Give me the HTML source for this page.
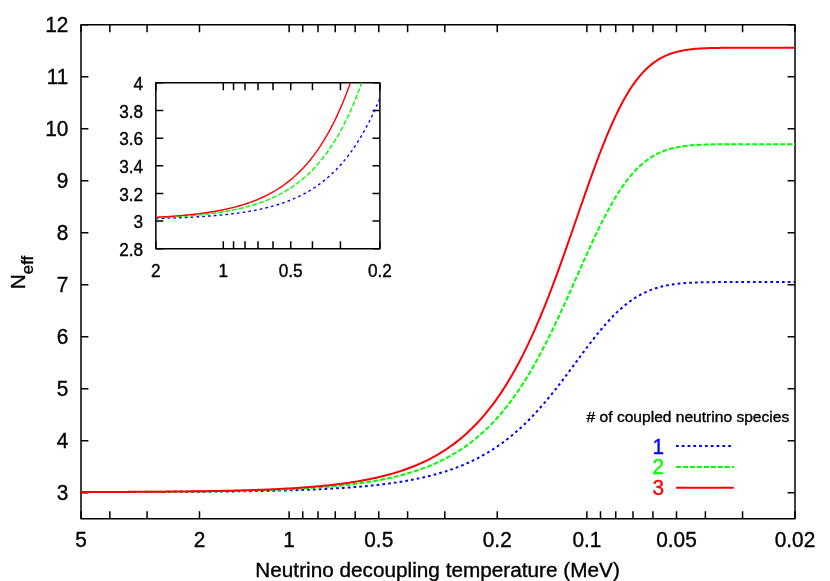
<!DOCTYPE html>
<html><head><meta charset="utf-8"><title>Neff</title>
<style>html,body{margin:0;padding:0;background:#fff}svg{display:block;will-change:transform}</style></head>
<body>
<svg width="830" height="581" viewBox="0 0 830 581" font-family="Liberation Sans, sans-serif" style="font-family:'Liberation Sans',sans-serif">
<rect width="830" height="581" fill="#fff"/>
<rect x="81.0" y="24.76" width="714.0" height="493.94000000000005" stroke="#000" stroke-linejoin="round" stroke-width="1.5" fill="none"/>
<path d="M81.0,492.70h7.4M795.0,492.70h-7.4M81.0,440.71h7.4M795.0,440.71h-7.4M81.0,388.72h7.4M795.0,388.72h-7.4M81.0,336.72h7.4M795.0,336.72h-7.4M81.0,284.73h7.4M795.0,284.73h-7.4M81.0,232.73h7.4M795.0,232.73h-7.4M81.0,180.74h7.4M795.0,180.74h-7.4M81.0,128.75h7.4M795.0,128.75h-7.4M81.0,76.75h7.4M795.0,76.75h-7.4M81.0,24.76h7.4M795.0,24.76h-7.4M81.00,518.7v-7.4M81.00,24.76v7.4M109.86,518.7v-7.4M109.86,24.76v7.4M147.06,518.7v-7.4M147.06,24.76v7.4M199.49,518.7v-7.4M199.49,24.76v7.4M289.12,518.7v-7.4M289.12,24.76v7.4M302.75,518.7v-7.4M302.75,24.76v7.4M317.98,518.7v-7.4M317.98,24.76v7.4M335.25,518.7v-7.4M335.25,24.76v7.4M355.18,518.7v-7.4M355.18,24.76v7.4M378.76,518.7v-7.4M378.76,24.76v7.4M407.61,518.7v-7.4M407.61,24.76v7.4M444.81,518.7v-7.4M444.81,24.76v7.4M497.24,518.7v-7.4M497.24,24.76v7.4M586.88,518.7v-7.4M586.88,24.76v7.4M600.50,518.7v-7.4M600.50,24.76v7.4M615.73,518.7v-7.4M615.73,24.76v7.4M633.00,518.7v-7.4M633.00,24.76v7.4M652.93,518.7v-7.4M652.93,24.76v7.4M676.51,518.7v-7.4M676.51,24.76v7.4M705.37,518.7v-7.4M705.37,24.76v7.4M742.57,518.7v-7.4M742.57,24.76v7.4M795.00,518.7v-7.4M795.00,24.76v7.4" stroke="#000" stroke-linejoin="round" stroke-width="1.5" fill="none"/>
<clipPath id="cm"><rect x="81.0" y="24.76" width="714.0" height="493.94000000000005"/></clipPath>
<g clip-path="url(#cm)">
<path d="M81.00,492.11 L82.99,492.11 L84.98,492.10 L86.97,492.10 L88.96,492.10 L90.94,492.10 L92.93,492.09 L94.92,492.09 L96.91,492.09 L98.90,492.09 L100.89,492.08 L102.88,492.08 L104.87,492.08 L106.86,492.07 L108.84,492.07 L110.83,492.07 L112.82,492.06 L114.81,492.06 L116.80,492.05 L118.79,492.05 L120.78,492.05 L122.77,492.04 L124.75,492.04 L126.74,492.03 L128.73,492.03 L130.72,492.02 L132.71,492.02 L134.70,492.01 L136.69,492.01 L138.68,492.00 L140.67,492.00 L142.65,491.99 L144.64,491.99 L146.63,491.98 L148.62,491.97 L150.61,491.97 L152.60,491.96 L154.59,491.95 L156.58,491.95 L158.57,491.94 L160.55,491.93 L162.54,491.92 L164.53,491.91 L166.52,491.91 L168.51,491.90 L170.50,491.89 L172.49,491.88 L174.48,491.87 L176.47,491.86 L178.45,491.85 L180.44,491.84 L182.43,491.83 L184.42,491.82 L186.41,491.81 L188.40,491.79 L190.39,491.78 L192.38,491.77 L194.36,491.76 L196.35,491.74 L198.34,491.73 L200.33,491.71 L202.32,491.70 L204.31,491.68 L206.30,491.67 L208.29,491.65 L210.28,491.64 L212.26,491.62 L214.25,491.60 L216.24,491.58 L218.23,491.57 L220.22,491.55 L222.21,491.53 L224.20,491.51 L226.19,491.48 L228.18,491.46 L230.16,491.44 L232.15,491.42 L234.14,491.39 L236.13,491.37 L238.12,491.34 L240.11,491.32 L242.10,491.29 L244.09,491.26 L246.08,491.23 L248.06,491.20 L250.05,491.17 L252.04,491.14 L254.03,491.11 L256.02,491.07 L258.01,491.04 L260.00,491.00 L261.99,490.97 L263.97,490.93 L265.96,490.89 L267.95,490.85 L269.94,490.81 L271.93,490.76 L273.92,490.72 L275.91,490.67 L277.90,490.63 L279.89,490.58 L281.87,490.53 L283.86,490.48 L285.85,490.42 L287.84,490.37 L289.83,490.31 L291.82,490.25 L293.81,490.19 L295.80,490.13 L297.79,490.07 L299.77,490.00 L301.76,489.93 L303.75,489.86 L305.74,489.79 L307.73,489.72 L309.72,489.64 L311.71,489.56 L313.70,489.48 L315.69,489.39 L317.67,489.30 L319.66,489.21 L321.65,489.12 L323.64,489.03 L325.63,488.93 L327.62,488.83 L329.61,488.72 L331.60,488.61 L333.58,488.50 L335.57,488.39 L337.56,488.27 L339.55,488.15 L341.54,488.02 L343.53,487.89 L345.52,487.75 L347.51,487.62 L349.50,487.47 L351.48,487.33 L353.47,487.17 L355.46,487.02 L357.45,486.86 L359.44,486.69 L361.43,486.52 L363.42,486.34 L365.41,486.16 L367.40,485.97 L369.38,485.78 L371.37,485.58 L373.36,485.37 L375.35,485.16 L377.34,484.94 L379.33,484.71 L381.32,484.48 L383.31,484.24 L385.30,483.99 L387.28,483.73 L389.27,483.47 L391.26,483.19 L393.25,482.91 L395.24,482.62 L397.23,482.32 L399.22,482.02 L401.21,481.70 L403.19,481.37 L405.18,481.03 L407.17,480.69 L409.16,480.33 L411.15,479.96 L413.14,479.57 L415.13,479.18 L417.12,478.77 L419.11,478.36 L421.09,477.92 L423.08,477.48 L425.07,477.02 L427.06,476.55 L429.05,476.06 L431.04,475.56 L433.03,475.04 L435.02,474.51 L437.01,473.96 L438.99,473.39 L440.98,472.80 L442.97,472.20 L444.96,471.58 L446.95,470.94 L448.94,470.28 L450.93,469.60 L452.92,468.90 L454.91,468.17 L456.89,467.43 L458.88,466.66 L460.87,465.87 L462.86,465.06 L464.85,464.22 L466.84,463.36 L468.83,462.47 L470.82,461.55 L472.81,460.61 L474.79,459.64 L476.78,458.64 L478.77,457.61 L480.76,456.55 L482.75,455.46 L484.74,454.34 L486.73,453.19 L488.72,452.00 L490.70,450.78 L492.69,449.52 L494.68,448.23 L496.67,446.91 L498.66,445.54 L500.65,444.14 L502.64,442.71 L504.63,441.23 L506.62,439.71 L508.60,438.16 L510.59,436.56 L512.58,434.92 L514.57,433.24 L516.56,431.52 L518.55,429.76 L520.54,427.95 L522.53,426.10 L524.52,424.21 L526.50,422.28 L528.49,420.30 L530.48,418.27 L532.47,416.21 L534.46,414.10 L536.45,411.95 L538.44,409.76 L540.43,407.52 L542.42,405.25 L544.40,402.94 L546.39,400.58 L548.38,398.19 L550.37,395.77 L552.36,393.31 L554.35,390.81 L556.34,388.29 L558.33,385.73 L560.31,383.15 L562.30,380.55 L564.29,377.92 L566.28,375.28 L568.27,372.62 L570.26,369.94 L572.25,367.26 L574.24,364.57 L576.23,361.87 L578.21,359.18 L580.20,356.49 L582.19,353.81 L584.18,351.14 L586.17,348.49 L588.16,345.85 L590.15,343.25 L592.14,340.67 L594.13,338.12 L596.11,335.60 L598.10,333.13 L600.09,330.70 L602.08,328.32 L604.07,325.99 L606.06,323.71 L608.05,321.48 L610.04,319.32 L612.03,317.22 L614.01,315.18 L616.00,313.21 L617.99,311.31 L619.98,309.47 L621.97,307.71 L623.96,306.01 L625.95,304.39 L627.94,302.84 L629.92,301.37 L631.91,299.96 L633.90,298.62 L635.89,297.36 L637.88,296.17 L639.87,295.04 L641.86,293.98 L643.85,292.98 L645.84,292.05 L647.82,291.18 L649.81,290.36 L651.80,289.61 L653.79,288.90 L655.78,288.25 L657.77,287.65 L659.76,287.10 L661.75,286.59 L663.74,286.12 L665.72,285.69 L667.71,285.30 L669.70,284.95 L671.69,284.62 L673.68,284.33 L675.67,284.06 L677.66,283.82 L679.65,283.61 L681.64,283.42 L683.62,283.24 L685.61,283.09 L687.60,282.95 L689.59,282.83 L691.58,282.72 L693.57,282.63 L695.56,282.54 L697.55,282.47 L699.53,282.41 L701.52,282.35 L703.51,282.30 L705.50,282.26 L707.49,282.22 L709.48,282.19 L711.47,282.16 L713.46,282.14 L715.45,282.12 L717.43,282.10 L719.42,282.09 L721.41,282.08 L723.40,282.07 L725.39,282.06 L727.38,282.05 L729.37,282.04 L731.36,282.04 L733.35,282.03 L735.33,282.03 L737.32,282.03 L739.31,282.03 L741.30,282.02 L743.29,282.02 L745.28,282.02 L747.27,282.02 L749.26,282.02 L751.25,282.02 L753.23,282.02 L755.22,282.02 L757.21,282.02 L759.20,282.02 L761.19,282.02 L763.18,282.02 L765.17,282.02 L767.16,282.02 L769.14,282.02 L771.13,282.02 L773.12,282.02 L775.11,282.02 L777.10,282.02 L779.09,282.02 L781.08,282.02 L783.07,282.02 L785.06,282.02 L787.04,282.02 L789.03,282.02 L791.02,282.02 L793.01,282.02 L795.00,282.02" fill="none" stroke="#0000ff" stroke-width="2.0" stroke-dasharray="2.7 3.1"/>
<path d="M81.00,492.06 L82.99,492.06 L84.98,492.06 L86.97,492.05 L88.96,492.05 L90.94,492.04 L92.93,492.04 L94.92,492.04 L96.91,492.03 L98.90,492.03 L100.89,492.02 L102.88,492.02 L104.87,492.01 L106.86,492.01 L108.84,492.00 L110.83,491.99 L112.82,491.99 L114.81,491.98 L116.80,491.98 L118.79,491.97 L120.78,491.96 L122.77,491.96 L124.75,491.95 L126.74,491.94 L128.73,491.93 L130.72,491.93 L132.71,491.92 L134.70,491.91 L136.69,491.90 L138.68,491.89 L140.67,491.88 L142.65,491.87 L144.64,491.86 L146.63,491.85 L148.62,491.84 L150.61,491.83 L152.60,491.82 L154.59,491.81 L156.58,491.80 L158.57,491.79 L160.55,491.77 L162.54,491.76 L164.53,491.75 L166.52,491.74 L168.51,491.72 L170.50,491.71 L172.49,491.69 L174.48,491.68 L176.47,491.66 L178.45,491.64 L180.44,491.63 L182.43,491.61 L184.42,491.59 L186.41,491.57 L188.40,491.55 L190.39,491.54 L192.38,491.52 L194.36,491.49 L196.35,491.47 L198.34,491.45 L200.33,491.43 L202.32,491.40 L204.31,491.38 L206.30,491.35 L208.29,491.33 L210.28,491.30 L212.26,491.27 L214.25,491.25 L216.24,491.22 L218.23,491.19 L220.22,491.16 L222.21,491.12 L224.20,491.09 L226.19,491.06 L228.18,491.02 L230.16,490.98 L232.15,490.95 L234.14,490.91 L236.13,490.87 L238.12,490.83 L240.11,490.78 L242.10,490.74 L244.09,490.70 L246.08,490.65 L248.06,490.60 L250.05,490.55 L252.04,490.50 L254.03,490.45 L256.02,490.39 L258.01,490.34 L260.00,490.28 L261.99,490.22 L263.97,490.16 L265.96,490.10 L267.95,490.03 L269.94,489.96 L271.93,489.90 L273.92,489.82 L275.91,489.75 L277.90,489.67 L279.89,489.60 L281.87,489.51 L283.86,489.43 L285.85,489.35 L287.84,489.26 L289.83,489.16 L291.82,489.07 L293.81,488.97 L295.80,488.87 L297.79,488.77 L299.77,488.66 L301.76,488.55 L303.75,488.44 L305.74,488.32 L307.73,488.20 L309.72,488.08 L311.71,487.95 L313.70,487.82 L315.69,487.68 L317.67,487.54 L319.66,487.39 L321.65,487.24 L323.64,487.09 L325.63,486.93 L327.62,486.76 L329.61,486.60 L331.60,486.42 L333.58,486.24 L335.57,486.05 L337.56,485.86 L339.55,485.66 L341.54,485.46 L343.53,485.25 L345.52,485.03 L347.51,484.81 L349.50,484.58 L351.48,484.34 L353.47,484.10 L355.46,483.84 L357.45,483.58 L359.44,483.31 L361.43,483.03 L363.42,482.75 L365.41,482.45 L367.40,482.15 L369.38,481.83 L371.37,481.51 L373.36,481.18 L375.35,480.83 L377.34,480.48 L379.33,480.11 L381.32,479.73 L383.31,479.34 L385.30,478.94 L387.28,478.52 L389.27,478.10 L391.26,477.66 L393.25,477.20 L395.24,476.73 L397.23,476.25 L399.22,475.75 L401.21,475.23 L403.19,474.70 L405.18,474.16 L407.17,473.59 L409.16,473.01 L411.15,472.41 L413.14,471.79 L415.13,471.15 L417.12,470.49 L419.11,469.82 L421.09,469.12 L423.08,468.39 L425.07,467.65 L427.06,466.88 L429.05,466.09 L431.04,465.27 L433.03,464.43 L435.02,463.56 L437.01,462.67 L438.99,461.75 L440.98,460.80 L442.97,459.82 L444.96,458.80 L446.95,457.76 L448.94,456.69 L450.93,455.58 L452.92,454.44 L454.91,453.26 L456.89,452.05 L458.88,450.80 L460.87,449.52 L462.86,448.19 L464.85,446.82 L466.84,445.41 L468.83,443.96 L470.82,442.47 L472.81,440.93 L474.79,439.34 L476.78,437.71 L478.77,436.03 L480.76,434.30 L482.75,432.52 L484.74,430.68 L486.73,428.79 L488.72,426.85 L490.70,424.85 L492.69,422.80 L494.68,420.69 L496.67,418.51 L498.66,416.28 L500.65,413.98 L502.64,411.62 L504.63,409.20 L506.62,406.71 L508.60,404.15 L510.59,401.53 L512.58,398.84 L514.57,396.07 L516.56,393.24 L518.55,390.34 L520.54,387.37 L522.53,384.32 L524.52,381.20 L526.50,378.01 L528.49,374.75 L530.48,371.41 L532.47,368.00 L534.46,364.52 L536.45,360.97 L538.44,357.34 L540.43,353.65 L542.42,349.89 L544.40,346.06 L546.39,342.16 L548.38,338.20 L550.37,334.18 L552.36,330.10 L554.35,325.97 L556.34,321.78 L558.33,317.54 L560.31,313.25 L562.30,308.92 L564.29,304.56 L566.28,300.16 L568.27,295.73 L570.26,291.28 L572.25,286.81 L574.24,282.33 L576.23,277.84 L578.21,273.35 L580.20,268.87 L582.19,264.40 L584.18,259.95 L586.17,255.52 L588.16,251.13 L590.15,246.77 L592.14,242.46 L594.13,238.20 L596.11,234.00 L598.10,229.87 L600.09,225.80 L602.08,221.82 L604.07,217.91 L606.06,214.10 L608.05,210.38 L610.04,206.75 L612.03,203.23 L614.01,199.82 L616.00,196.51 L617.99,193.32 L619.98,190.25 L621.97,187.29 L623.96,184.45 L625.95,181.73 L627.94,179.13 L629.92,176.65 L631.91,174.29 L633.90,172.05 L635.89,169.93 L637.88,167.92 L639.87,166.03 L641.86,164.25 L643.85,162.58 L645.84,161.01 L647.82,159.55 L649.81,158.18 L651.80,156.91 L653.79,155.73 L655.78,154.64 L657.77,153.63 L659.76,152.70 L661.75,151.84 L663.74,151.05 L665.72,150.33 L667.71,149.68 L669.70,149.08 L671.69,148.54 L673.68,148.04 L675.67,147.60 L677.66,147.20 L679.65,146.83 L681.64,146.51 L683.62,146.22 L685.61,145.96 L687.60,145.73 L689.59,145.53 L691.58,145.35 L693.57,145.19 L695.56,145.04 L697.55,144.92 L699.53,144.81 L701.52,144.72 L703.51,144.64 L705.50,144.56 L707.49,144.50 L709.48,144.45 L711.47,144.40 L713.46,144.36 L715.45,144.33 L717.43,144.30 L719.42,144.28 L721.41,144.26 L723.40,144.24 L725.39,144.22 L727.38,144.21 L729.37,144.20 L731.36,144.19 L733.35,144.19 L735.33,144.18 L737.32,144.18 L739.31,144.17 L741.30,144.17 L743.29,144.17 L745.28,144.16 L747.27,144.16 L749.26,144.16 L751.25,144.16 L753.23,144.16 L755.22,144.16 L757.21,144.16 L759.20,144.16 L761.19,144.16 L763.18,144.16 L765.17,144.16 L767.16,144.16 L769.14,144.16 L771.13,144.16 L773.12,144.16 L775.11,144.16 L777.10,144.16 L779.09,144.16 L781.08,144.16 L783.07,144.16 L785.06,144.16 L787.04,144.16 L789.03,144.16 L791.02,144.16 L793.01,144.16 L795.00,144.16" fill="none" stroke="#00ff00" stroke-width="2.0" stroke-dasharray="5.0 1.97"/>
<path d="M81.00,492.03 L82.99,492.03 L84.98,492.02 L86.97,492.02 L88.96,492.01 L90.94,492.01 L92.93,492.00 L94.92,492.00 L96.91,491.99 L98.90,491.99 L100.89,491.98 L102.88,491.97 L104.87,491.97 L106.86,491.96 L108.84,491.95 L110.83,491.95 L112.82,491.94 L114.81,491.93 L116.80,491.92 L118.79,491.91 L120.78,491.91 L122.77,491.90 L124.75,491.89 L126.74,491.88 L128.73,491.87 L130.72,491.86 L132.71,491.85 L134.70,491.84 L136.69,491.83 L138.68,491.82 L140.67,491.81 L142.65,491.79 L144.64,491.78 L146.63,491.77 L148.62,491.76 L150.61,491.74 L152.60,491.73 L154.59,491.72 L156.58,491.70 L158.57,491.69 L160.55,491.67 L162.54,491.65 L164.53,491.64 L166.52,491.62 L168.51,491.60 L170.50,491.58 L172.49,491.57 L174.48,491.55 L176.47,491.53 L178.45,491.51 L180.44,491.49 L182.43,491.46 L184.42,491.44 L186.41,491.42 L188.40,491.39 L190.39,491.37 L192.38,491.34 L194.36,491.32 L196.35,491.29 L198.34,491.26 L200.33,491.23 L202.32,491.20 L204.31,491.17 L206.30,491.14 L208.29,491.11 L210.28,491.08 L212.26,491.04 L214.25,491.01 L216.24,490.97 L218.23,490.93 L220.22,490.89 L222.21,490.85 L224.20,490.81 L226.19,490.77 L228.18,490.72 L230.16,490.68 L232.15,490.63 L234.14,490.58 L236.13,490.53 L238.12,490.48 L240.11,490.43 L242.10,490.37 L244.09,490.31 L246.08,490.26 L248.06,490.20 L250.05,490.13 L252.04,490.07 L254.03,490.00 L256.02,489.94 L258.01,489.87 L260.00,489.79 L261.99,489.72 L263.97,489.64 L265.96,489.56 L267.95,489.48 L269.94,489.40 L271.93,489.31 L273.92,489.22 L275.91,489.13 L277.90,489.03 L279.89,488.93 L281.87,488.83 L283.86,488.72 L285.85,488.62 L287.84,488.51 L289.83,488.39 L291.82,488.27 L293.81,488.15 L295.80,488.02 L297.79,487.89 L299.77,487.76 L301.76,487.62 L303.75,487.48 L305.74,487.33 L307.73,487.18 L309.72,487.02 L311.71,486.86 L313.70,486.69 L315.69,486.52 L317.67,486.35 L319.66,486.16 L321.65,485.97 L323.64,485.78 L325.63,485.58 L327.62,485.37 L329.61,485.16 L331.60,484.94 L333.58,484.71 L335.57,484.48 L337.56,484.24 L339.55,483.99 L341.54,483.73 L343.53,483.47 L345.52,483.20 L347.51,482.91 L349.50,482.62 L351.48,482.32 L353.47,482.02 L355.46,481.70 L357.45,481.37 L359.44,481.03 L361.43,480.68 L363.42,480.32 L365.41,479.95 L367.40,479.57 L369.38,479.17 L371.37,478.76 L373.36,478.34 L375.35,477.91 L377.34,477.46 L379.33,477.00 L381.32,476.52 L383.31,476.03 L385.30,475.53 L387.28,475.00 L389.27,474.46 L391.26,473.91 L393.25,473.34 L395.24,472.74 L397.23,472.14 L399.22,471.51 L401.21,470.86 L403.19,470.19 L405.18,469.50 L407.17,468.79 L409.16,468.05 L411.15,467.30 L413.14,466.52 L415.13,465.71 L417.12,464.88 L419.11,464.03 L421.09,463.14 L423.08,462.23 L425.07,461.29 L427.06,460.32 L429.05,459.33 L431.04,458.30 L433.03,457.23 L435.02,456.14 L437.01,455.01 L438.99,453.84 L440.98,452.64 L442.97,451.40 L444.96,450.13 L446.95,448.81 L448.94,447.45 L450.93,446.05 L452.92,444.61 L454.91,443.12 L456.89,441.59 L458.88,440.01 L460.87,438.38 L462.86,436.71 L464.85,434.98 L466.84,433.19 L468.83,431.36 L470.82,429.46 L472.81,427.52 L474.79,425.51 L476.78,423.44 L478.77,421.31 L480.76,419.12 L482.75,416.86 L484.74,414.53 L486.73,412.14 L488.72,409.68 L490.70,407.14 L492.69,404.53 L494.68,401.85 L496.67,399.09 L498.66,396.26 L500.65,393.34 L502.64,390.34 L504.63,387.26 L506.62,384.10 L508.60,380.85 L510.59,377.51 L512.58,374.09 L514.57,370.58 L516.56,366.97 L518.55,363.28 L520.54,359.49 L522.53,355.61 L524.52,351.64 L526.50,347.58 L528.49,343.42 L530.48,339.16 L532.47,334.82 L534.46,330.38 L536.45,325.85 L538.44,321.22 L540.43,316.51 L542.42,311.70 L544.40,306.81 L546.39,301.84 L548.38,296.78 L550.37,291.64 L552.36,286.43 L554.35,281.14 L556.34,275.78 L558.33,270.36 L560.31,264.88 L562.30,259.34 L564.29,253.75 L566.28,248.12 L568.27,242.45 L570.26,236.75 L572.25,231.03 L574.24,225.28 L576.23,219.53 L578.21,213.78 L580.20,208.03 L582.19,202.29 L584.18,196.58 L586.17,190.90 L588.16,185.26 L590.15,179.67 L592.14,174.14 L594.13,168.67 L596.11,163.28 L598.10,157.97 L600.09,152.75 L602.08,147.62 L604.07,142.61 L606.06,137.71 L608.05,132.92 L610.04,128.27 L612.03,123.74 L614.01,119.35 L616.00,115.10 L617.99,111.00 L619.98,107.04 L621.97,103.24 L623.96,99.59 L625.95,96.09 L627.94,92.74 L629.92,89.55 L631.91,86.52 L633.90,83.64 L635.89,80.91 L637.88,78.32 L639.87,75.89 L641.86,73.59 L643.85,71.44 L645.84,69.42 L647.82,67.54 L649.81,65.78 L651.80,64.14 L653.79,62.62 L655.78,61.22 L657.77,59.92 L659.76,58.72 L661.75,57.61 L663.74,56.60 L665.72,55.68 L667.71,54.83 L669.70,54.06 L671.69,53.36 L673.68,52.73 L675.67,52.15 L677.66,51.64 L679.65,51.17 L681.64,50.75 L683.62,50.38 L685.61,50.05 L687.60,49.75 L689.59,49.48 L691.58,49.25 L693.57,49.05 L695.56,48.86 L697.55,48.70 L699.53,48.56 L701.52,48.44 L703.51,48.34 L705.50,48.25 L707.49,48.17 L709.48,48.10 L711.47,48.04 L713.46,47.99 L715.45,47.94 L717.43,47.91 L719.42,47.88 L721.41,47.85 L723.40,47.83 L725.39,47.81 L727.38,47.79 L729.37,47.78 L731.36,47.77 L733.35,47.76 L735.33,47.75 L737.32,47.75 L739.31,47.74 L741.30,47.74 L743.29,47.73 L745.28,47.73 L747.27,47.73 L749.26,47.73 L751.25,47.72 L753.23,47.72 L755.22,47.72 L757.21,47.72 L759.20,47.72 L761.19,47.72 L763.18,47.72 L765.17,47.72 L767.16,47.72 L769.14,47.72 L771.13,47.72 L773.12,47.72 L775.11,47.72 L777.10,47.72 L779.09,47.72 L781.08,47.72 L783.07,47.72 L785.06,47.72 L787.04,47.72 L789.03,47.72 L791.02,47.72 L793.01,47.72 L795.00,47.72" fill="none" stroke="#ff0000" stroke-width="2.0"/>
</g>
<text transform="translate(68.30,500.10) scale(1,1.04)" font-size="20.8" text-anchor="end" fill="#000" stroke="#000" stroke-width="0.35">3</text>
<text transform="translate(68.30,448.11) scale(1,1.04)" font-size="20.8" text-anchor="end" fill="#000" stroke="#000" stroke-width="0.35">4</text>
<text transform="translate(68.30,396.12) scale(1,1.04)" font-size="20.8" text-anchor="end" fill="#000" stroke="#000" stroke-width="0.35">5</text>
<text transform="translate(68.30,344.12) scale(1,1.04)" font-size="20.8" text-anchor="end" fill="#000" stroke="#000" stroke-width="0.35">6</text>
<text transform="translate(68.30,292.13) scale(1,1.04)" font-size="20.8" text-anchor="end" fill="#000" stroke="#000" stroke-width="0.35">7</text>
<text transform="translate(68.30,240.13) scale(1,1.04)" font-size="20.8" text-anchor="end" fill="#000" stroke="#000" stroke-width="0.35">8</text>
<text transform="translate(68.30,188.14) scale(1,1.04)" font-size="20.8" text-anchor="end" fill="#000" stroke="#000" stroke-width="0.35">9</text>
<text transform="translate(68.30,136.15) scale(1,1.04)" font-size="20.8" text-anchor="end" fill="#000" stroke="#000" stroke-width="0.35">10</text>
<text transform="translate(68.30,84.15) scale(1,1.04)" font-size="20.8" text-anchor="end" fill="#000" stroke="#000" stroke-width="0.35">11</text>
<text transform="translate(68.30,32.16) scale(1,1.04)" font-size="20.8" text-anchor="end" fill="#000" stroke="#000" stroke-width="0.35">12</text>
<text transform="translate(81.00,546.60) scale(1,1.04)" font-size="20.8" text-anchor="middle" fill="#000" stroke="#000" stroke-width="0.35">5</text>
<text transform="translate(199.49,546.60) scale(1,1.04)" font-size="20.8" text-anchor="middle" fill="#000" stroke="#000" stroke-width="0.35">2</text>
<text transform="translate(289.12,546.60) scale(1,1.04)" font-size="20.8" text-anchor="middle" fill="#000" stroke="#000" stroke-width="0.35">1</text>
<text transform="translate(378.76,546.60) scale(1,1.04)" font-size="20.8" text-anchor="middle" fill="#000" stroke="#000" stroke-width="0.35">0.5</text>
<text transform="translate(497.24,546.60) scale(1,1.04)" font-size="20.8" text-anchor="middle" fill="#000" stroke="#000" stroke-width="0.35">0.2</text>
<text transform="translate(586.88,546.60) scale(1,1.04)" font-size="20.8" text-anchor="middle" fill="#000" stroke="#000" stroke-width="0.35">0.1</text>
<text transform="translate(676.51,546.60) scale(1,1.04)" font-size="20.8" text-anchor="middle" fill="#000" stroke="#000" stroke-width="0.35">0.05</text>
<text transform="translate(795.00,546.60) scale(1,1.04)" font-size="20.8" text-anchor="middle" fill="#000" stroke="#000" stroke-width="0.35">0.02</text>
<text x="255.3" y="577.2" font-size="20" textLength="364.5" lengthAdjust="spacingAndGlyphs" fill="#000" stroke="#000" stroke-width="0.35">Neutrino decoupling temperature (MeV)</text>
<text transform="translate(25.2,272.5) rotate(-90)" font-size="20.8" text-anchor="middle" fill="#000" stroke="#000" stroke-width="0.35">N<tspan font-size="16.8" dy="7.3">eff</tspan></text>
<text x="586.6" y="421.7" font-size="15.3" textLength="202.6" lengthAdjust="spacingAndGlyphs" fill="#000" stroke="#000" stroke-width="0.35"># of coupled neutrino species</text>
<text transform="translate(658.30,453.50) scale(1,1.04)" font-size="20.8" text-anchor="middle" fill="#0000ff" stroke="#0000ff" stroke-width="0.35">1</text>
<path d="M676,446.1H733.8" fill="none" stroke="#0000ff" stroke-width="2.0" stroke-dasharray="2.7 3.1"/>
<text transform="translate(658.30,474.30) scale(1,1.04)" font-size="20.8" text-anchor="middle" fill="#00ff00" stroke="#00ff00" stroke-width="0.35">2</text>
<path d="M676,466.9H733.8" fill="none" stroke="#00ff00" stroke-width="2.0" stroke-dasharray="5.0 1.97"/>
<text transform="translate(658.30,495.10) scale(1,1.04)" font-size="20.8" text-anchor="middle" fill="#ff0000" stroke="#ff0000" stroke-width="0.35">3</text>
<path d="M676,487.7H733.8" fill="none" stroke="#ff0000" stroke-width="2.0"/>
<rect x="155.85" y="82.85" width="224.04999999999998" height="165.92000000000002" stroke="#000" stroke-linejoin="round" stroke-width="1.5" fill="none"/>
<path d="M155.85,248.77h7.4M379.9,248.77h-7.4M155.85,221.12h7.4M379.9,221.12h-7.4M155.85,193.46h7.4M379.9,193.46h-7.4M155.85,165.81h7.4M379.9,165.81h-7.4M155.85,138.16h7.4M379.9,138.16h-7.4M155.85,110.50h7.4M379.9,110.50h-7.4M155.85,82.85h7.4M379.9,82.85h-7.4M155.85,248.77v-7.4M155.85,82.85v7.4M223.30,248.77v-7.4M223.30,82.85v7.4M233.55,248.77v-7.4M233.55,82.85v7.4M245.01,248.77v-7.4M245.01,82.85v7.4M258.00,248.77v-7.4M258.00,82.85v7.4M273.00,248.77v-7.4M273.00,82.85v7.4M290.74,248.77v-7.4M290.74,82.85v7.4M312.45,248.77v-7.4M312.45,82.85v7.4M340.45,248.77v-7.4M340.45,82.85v7.4M379.90,248.77v-7.4M379.90,82.85v7.4" stroke="#000" stroke-linejoin="round" stroke-width="1.5" fill="none"/>
<clipPath id="ci"><rect x="155.85" y="82.85" width="224.04999999999998" height="165.92000000000002"/></clipPath>
<g clip-path="url(#ci)">
<path d="M155.85,218.50 L157.46,218.46 L159.07,218.42 L160.69,218.38 L162.30,218.33 L163.91,218.28 L165.52,218.23 L167.13,218.18 L168.74,218.13 L170.36,218.08 L171.97,218.02 L173.58,217.96 L175.19,217.90 L176.80,217.84 L178.42,217.78 L180.03,217.71 L181.64,217.64 L183.25,217.57 L184.86,217.50 L186.48,217.43 L188.09,217.35 L189.70,217.27 L191.31,217.18 L192.92,217.10 L194.53,217.01 L196.15,216.92 L197.76,216.82 L199.37,216.73 L200.98,216.62 L202.59,216.52 L204.21,216.41 L205.82,216.30 L207.43,216.18 L209.04,216.06 L210.65,215.94 L212.27,215.81 L213.88,215.68 L215.49,215.54 L217.10,215.40 L218.71,215.26 L220.32,215.10 L221.94,214.95 L223.55,214.79 L225.16,214.62 L226.77,214.45 L228.38,214.27 L230.00,214.09 L231.61,213.90 L233.22,213.70 L234.83,213.50 L236.44,213.29 L238.06,213.07 L239.67,212.84 L241.28,212.61 L242.89,212.37 L244.50,212.12 L246.11,211.87 L247.73,211.60 L249.34,211.33 L250.95,211.04 L252.56,210.75 L254.17,210.45 L255.79,210.14 L257.40,209.81 L259.01,209.48 L260.62,209.13 L262.23,208.77 L263.85,208.40 L265.46,208.02 L267.07,207.63 L268.68,207.22 L270.29,206.80 L271.90,206.36 L273.52,205.91 L275.13,205.45 L276.74,204.96 L278.35,204.47 L279.96,203.95 L281.58,203.42 L283.19,202.87 L284.80,202.30 L286.41,201.71 L288.02,201.11 L289.64,200.48 L291.25,199.83 L292.86,199.16 L294.47,198.46 L296.08,197.75 L297.69,197.01 L299.31,196.24 L300.92,195.45 L302.53,194.63 L304.14,193.78 L305.75,192.91 L307.37,192.01 L308.98,191.07 L310.59,190.11 L312.20,189.11 L313.81,188.08 L315.43,187.01 L317.04,185.91 L318.65,184.77 L320.26,183.59 L321.87,182.38 L323.48,181.12 L325.10,179.82 L326.71,178.48 L328.32,177.09 L329.93,175.66 L331.54,174.18 L333.16,172.65 L334.77,171.07 L336.38,169.43 L337.99,167.74 L339.60,166.00 L341.22,164.20 L342.83,162.34 L344.44,160.42 L346.05,158.43 L347.66,156.38 L349.27,154.26 L350.89,152.07 L352.50,149.81 L354.11,147.48 L355.72,145.07 L357.33,142.59 L358.95,140.02 L360.56,137.37 L362.17,134.64 L363.78,131.82 L365.39,128.91 L367.01,125.91 L368.62,122.81 L370.23,119.62 L371.84,116.33 L373.45,112.94 L375.06,109.44 L376.68,105.83 L378.29,102.12 L379.90,98.30" fill="none" stroke="#0000ff" stroke-width="1.4" stroke-dasharray="2.7 3.1"/>
<path d="M155.85,217.75 L157.46,217.68 L159.07,217.61 L160.69,217.54 L162.30,217.47 L163.91,217.39 L165.52,217.31 L167.13,217.23 L168.74,217.15 L170.36,217.06 L171.97,216.97 L173.58,216.88 L175.19,216.78 L176.80,216.68 L178.42,216.58 L180.03,216.47 L181.64,216.36 L183.25,216.25 L184.86,216.13 L186.48,216.01 L188.09,215.89 L189.70,215.76 L191.31,215.62 L192.92,215.48 L194.53,215.34 L196.15,215.19 L197.76,215.04 L199.37,214.88 L200.98,214.72 L202.59,214.55 L204.21,214.37 L205.82,214.19 L207.43,214.01 L209.04,213.81 L210.65,213.61 L212.27,213.41 L213.88,213.19 L215.49,212.97 L217.10,212.74 L218.71,212.51 L220.32,212.27 L221.94,212.01 L223.55,211.75 L225.16,211.48 L226.77,211.21 L228.38,210.92 L230.00,210.62 L231.61,210.31 L233.22,210.00 L234.83,209.67 L236.44,209.33 L238.06,208.98 L239.67,208.61 L241.28,208.24 L242.89,207.85 L244.50,207.45 L246.11,207.04 L247.73,206.61 L249.34,206.17 L250.95,205.71 L252.56,205.24 L254.17,204.75 L255.79,204.24 L257.40,203.72 L259.01,203.18 L260.62,202.62 L262.23,202.04 L263.85,201.45 L265.46,200.83 L267.07,200.19 L268.68,199.53 L270.29,198.85 L271.90,198.14 L273.52,197.42 L275.13,196.66 L276.74,195.88 L278.35,195.08 L279.96,194.25 L281.58,193.39 L283.19,192.50 L284.80,191.58 L286.41,190.63 L288.02,189.64 L289.64,188.63 L291.25,187.58 L292.86,186.49 L294.47,185.37 L296.08,184.21 L297.69,183.01 L299.31,181.77 L300.92,180.49 L302.53,179.16 L304.14,177.79 L305.75,176.38 L307.37,174.91 L308.98,173.40 L310.59,171.83 L312.20,170.22 L313.81,168.54 L315.43,166.82 L317.04,165.03 L318.65,163.18 L320.26,161.27 L321.87,159.30 L323.48,157.26 L325.10,155.15 L326.71,152.97 L328.32,150.72 L329.93,148.39 L331.54,145.99 L333.16,143.50 L334.77,140.93 L336.38,138.28 L337.99,135.53 L339.60,132.70 L341.22,129.77 L342.83,126.74 L344.44,123.61 L346.05,120.38 L347.66,117.04 L349.27,113.59 L350.89,110.02 L352.50,106.34 L354.11,102.54 L355.72,98.61 L357.33,94.56 L358.95,90.37 L360.56,86.05 L362.17,81.59 L363.78,76.98 L365.39,72.23 L367.01,67.33 L368.62,62.27 L370.23,57.04 L371.84,51.66 L373.45,46.11 L375.06,40.38 L376.68,34.48 L378.29,28.39 L379.90,22.12" fill="none" stroke="#00ff00" stroke-width="1.4" stroke-dasharray="5.0 1.97"/>
<path d="M155.85,217.24 L157.46,217.16 L159.07,217.07 L160.69,216.98 L162.30,216.89 L163.91,216.79 L165.52,216.69 L167.13,216.59 L168.74,216.49 L170.36,216.38 L171.97,216.26 L173.58,216.15 L175.19,216.02 L176.80,215.90 L178.42,215.77 L180.03,215.64 L181.64,215.50 L183.25,215.36 L184.86,215.21 L186.48,215.06 L188.09,214.90 L189.70,214.74 L191.31,214.57 L192.92,214.39 L194.53,214.21 L196.15,214.03 L197.76,213.83 L199.37,213.64 L200.98,213.43 L202.59,213.22 L204.21,213.00 L205.82,212.77 L207.43,212.54 L209.04,212.29 L210.65,212.04 L212.27,211.78 L213.88,211.51 L215.49,211.24 L217.10,210.95 L218.71,210.66 L220.32,210.35 L221.94,210.03 L223.55,209.71 L225.16,209.37 L226.77,209.02 L228.38,208.66 L230.00,208.28 L231.61,207.90 L233.22,207.50 L234.83,207.08 L236.44,206.66 L238.06,206.22 L239.67,205.76 L241.28,205.29 L242.89,204.80 L244.50,204.30 L246.11,203.78 L247.73,203.24 L249.34,202.68 L250.95,202.11 L252.56,201.51 L254.17,200.90 L255.79,200.26 L257.40,199.60 L259.01,198.92 L260.62,198.22 L262.23,197.49 L263.85,196.74 L265.46,195.97 L267.07,195.16 L268.68,194.34 L270.29,193.48 L271.90,192.59 L273.52,191.67 L275.13,190.73 L276.74,189.75 L278.35,188.73 L279.96,187.69 L281.58,186.60 L283.19,185.48 L284.80,184.33 L286.41,183.13 L288.02,181.89 L289.64,180.61 L291.25,179.29 L292.86,177.92 L294.47,176.51 L296.08,175.05 L297.69,173.54 L299.31,171.98 L300.92,170.36 L302.53,168.69 L304.14,166.97 L305.75,165.18 L307.37,163.34 L308.98,161.43 L310.59,159.46 L312.20,157.42 L313.81,155.31 L315.43,153.13 L317.04,150.88 L318.65,148.55 L320.26,146.15 L321.87,143.66 L323.48,141.08 L325.10,138.43 L326.71,135.68 L328.32,132.83 L329.93,129.90 L331.54,126.86 L333.16,123.72 L334.77,120.48 L336.38,117.12 L337.99,113.66 L339.60,110.07 L341.22,106.37 L342.83,102.55 L344.44,98.59 L346.05,94.51 L347.66,90.29 L349.27,85.92 L350.89,81.42 L352.50,76.76 L354.11,71.95 L355.72,66.98 L357.33,61.85 L358.95,56.55 L360.56,51.08 L362.17,45.43 L363.78,39.60 L365.39,33.58 L367.01,27.36 L368.62,20.95 L370.23,14.33 L371.84,7.50 L373.45,0.46 L375.06,-6.81 L376.68,-14.30 L378.29,-22.02 L379.90,-29.98" fill="none" stroke="#ff0000" stroke-width="1.4"/>
</g>
<text transform="translate(143.15,255.97) scale(1,1.03)" font-size="17.2" text-anchor="end" fill="#000" stroke="#000" stroke-width="0.35">2.8</text>
<text transform="translate(143.15,228.32) scale(1,1.03)" font-size="17.2" text-anchor="end" fill="#000" stroke="#000" stroke-width="0.35">3</text>
<text transform="translate(143.15,200.66) scale(1,1.03)" font-size="17.2" text-anchor="end" fill="#000" stroke="#000" stroke-width="0.35">3.2</text>
<text transform="translate(143.15,173.01) scale(1,1.03)" font-size="17.2" text-anchor="end" fill="#000" stroke="#000" stroke-width="0.35">3.4</text>
<text transform="translate(143.15,145.36) scale(1,1.03)" font-size="17.2" text-anchor="end" fill="#000" stroke="#000" stroke-width="0.35">3.6</text>
<text transform="translate(143.15,117.70) scale(1,1.03)" font-size="17.2" text-anchor="end" fill="#000" stroke="#000" stroke-width="0.35">3.8</text>
<text transform="translate(143.15,90.05) scale(1,1.03)" font-size="17.2" text-anchor="end" fill="#000" stroke="#000" stroke-width="0.35">4</text>
<text transform="translate(155.85,276.80) scale(1,1.03)" font-size="17.2" text-anchor="middle" fill="#000" stroke="#000" stroke-width="0.35">2</text>
<text transform="translate(223.30,276.80) scale(1,1.03)" font-size="17.2" text-anchor="middle" fill="#000" stroke="#000" stroke-width="0.35">1</text>
<text transform="translate(290.74,276.80) scale(1,1.03)" font-size="17.2" text-anchor="middle" fill="#000" stroke="#000" stroke-width="0.35">0.5</text>
<text transform="translate(379.90,276.80) scale(1,1.03)" font-size="17.2" text-anchor="middle" fill="#000" stroke="#000" stroke-width="0.35">0.2</text>
</svg>
</body></html>
